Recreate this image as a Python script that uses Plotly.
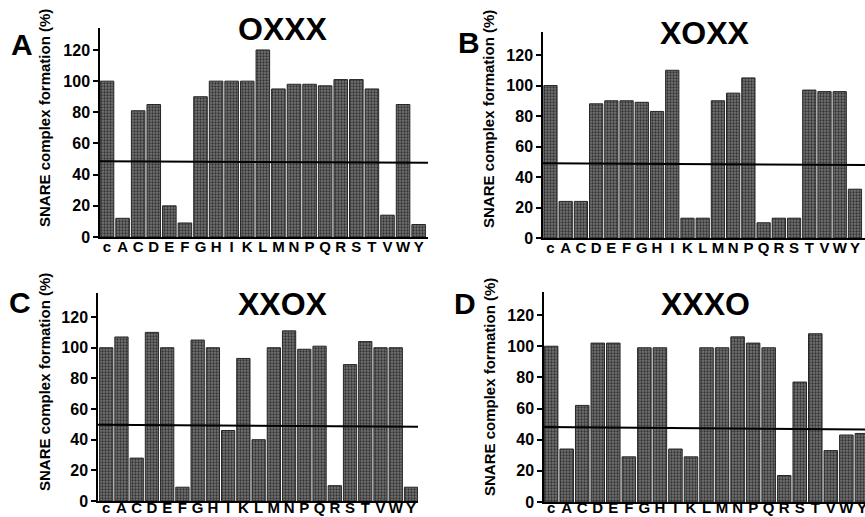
import plotly.graph_objects as go

W, H = 865, 517

categories = ["c", "A", "C", "D", "E", "F", "G", "H", "I", "K", "L",
              "M", "N", "P", "Q", "R", "S", "T", "V", "W", "Y"]

oxxx = [100, 12, 81, 85, 20, 9, 90, 100, 100, 100, 120,
        95, 98, 98, 97, 101, 101, 95, 14, 85, 8]
xoxx = [100, 24, 24, 88, 90, 90, 89, 83, 110, 13, 13,
        90, 95, 105, 10, 13, 13, 97, 96, 96, 32]
xxox = [100, 107, 28, 110, 100, 9, 105, 100, 46, 93, 40,
        100, 111, 99, 101, 10, 89, 104, 100, 100, 9]
xxxo = [100, 34, 62, 102, 102, 29, 99, 99, 34, 29, 99,
        99, 106, 102, 99, 17, 77, 108, 33, 43, 44]

titles = ["OXXX", "XOXX", "XXOX", "XXXO"]
letters = ["A", "B", "C", "D"]
thresholds = [(48.6, 47.6), (49.0, 47.9), (49.7, 48.4), (48.2, 46.5)]
yticks = [0, 20, 40, 60, 80, 100, 120]
ytitle = "SNARE complex formation (%)"

series = [oxxx, xoxx, xxox, xxxo]

# layout geometry in pixels (panel placement)
panels = [
    dict(x0=100, x1=428, ybot=237, ytop=28, ymax=134.1, xr=(-0.45, 20.6), so=-5,
         title=(283, 29), letter=(22, 44), ytl=(44, 118)),
    dict(x0=543, x1=865, ybot=238, ytop=32, ymax=135.1, xr=(-0.49, 20.66), so=-5,
         title=(705, 33), letter=(469, 43), ytl=(488, 119)),
    dict(x0=98, x1=418, ybot=501, ytop=293, ymax=135.7, xr=(-0.54, 20.46), so=-8,
         title=(283, 304), letter=(20, 302), ytl=(44, 382)),
    dict(x0=544, x1=865, ybot=502, ytop=292, ymax=134.8, xr=(-0.46, 20.2), so=-9,
         title=(705, 304), letter=(465, 303), ytl=(489, 387)),
]

def b(s):
    return "<b>" + s + "</b>"

fig = go.Figure()
layout = dict(width=W, height=H, margin=dict(l=0, r=0, t=0, b=0, autoexpand=False),
              template="none",
              paper_bgcolor="white", plot_bgcolor="white", showlegend=False)
annotations = []
shapes = []
fam = "Liberation Sans, Arial, sans-serif"

for i, (vals, p) in enumerate(zip(series, panels)):
    n = "" if i == 0 else str(i + 1)
    xa, ya = "x" + n, "y" + n
    fig.add_trace(go.Bar(
        x=list(range(len(categories))), y=vals, xaxis=xa, yaxis=ya,
        width=0.87,
        marker=dict(color="#5e5e5e", line=dict(color="#262626", width=1),
                    pattern=dict(shape=".", fgcolor="#333333", bgcolor="#737373",
                                 size=3, solidity=0.45)),
        hoverinfo="skip"))
    layout["xaxis" + n] = dict(
        domain=[p["x0"] / W, p["x1"] / W], anchor=ya, range=list(p["xr"]),
        tickvals=list(range(len(categories))), ticktext=[b(c) for c in categories],
        showline=True, linecolor="black", linewidth=1.5, automargin=False,
        ticks="", ticklabelstandoff=p["so"],
        showgrid=False, zeroline=False, ticklabeloverflow="allow",
        tickfont=dict(family=fam, size=15, color="black"))
    layout["yaxis" + n] = dict(
        domain=[1 - p["ybot"] / H, 1 - p["ytop"] / H], anchor=xa,
        range=[0, p["ymax"]], tickvals=yticks, ticktext=[b(str(v)) for v in yticks],
        showline=True, linecolor="black", linewidth=1.5, automargin=False,
        ticks="outside", ticklen=5, tickwidth=1.5, tickcolor="black",
        showgrid=False, zeroline=False,
        tickfont=dict(family=fam, size=16, color="black"))
    t0, t1 = thresholds[i]
    shapes.append(dict(type="line", xref=xa + " domain", yref=ya,
                       x0=0, x1=1, y0=t0, y1=t1,
                       line=dict(color="black", width=2)))
    annotations.append(dict(text=b(titles[i]), xref="paper", yref="paper",
                            x=p["title"][0] / W, y=1 - p["title"][1] / H,
                            xanchor="center", yanchor="middle", showarrow=False,
                            font=dict(family=fam, size=32, color="black")))
    annotations.append(dict(text=b(letters[i]), xref="paper", yref="paper",
                            x=p["letter"][0] / W, y=1 - p["letter"][1] / H,
                            xanchor="center", yanchor="middle", showarrow=False,
                            font=dict(family=fam, size=30, color="black")))
    annotations.append(dict(text=b(ytitle), xref="paper", yref="paper", textangle=-90,
                            x=p["ytl"][0] / W, y=1 - p["ytl"][1] / H,
                            xanchor="center", yanchor="middle", showarrow=False,
                            font=dict(family=fam, size=15, color="black")))

layout["annotations"] = annotations
layout["shapes"] = shapes
fig.update_layout(**layout)
fig.write_html("out.html")
